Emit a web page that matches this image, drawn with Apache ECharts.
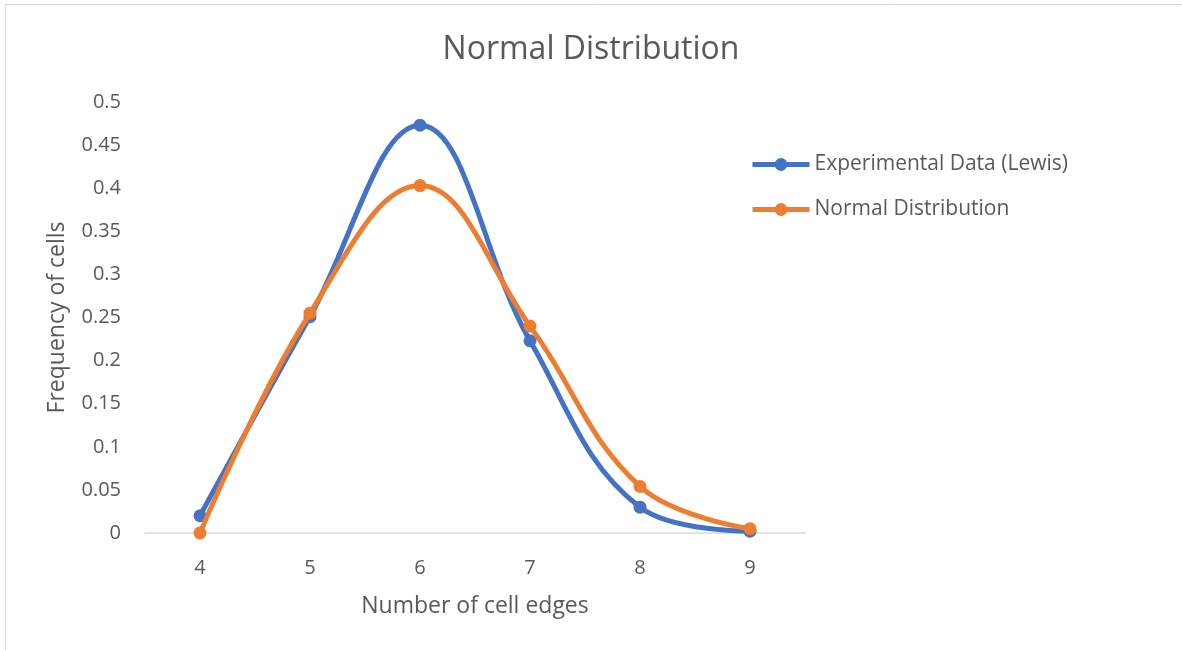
<!DOCTYPE html>
<html>
<head>
<meta charset="utf-8">
<script src="https://cdn.jsdelivr.net/npm/echarts@6/dist/echarts.min.js"></script>
<style>
  html, body { margin: 0; padding: 0; background: #fff; }
  #chart { width: 1182px; height: 650px; }
</style>
</head>
<body>
<div id="chart"></div>
<script>
// Number of cell edges
const categories = ['4', '5', '6', '7', '8', '9'];
// Frequency of cells per edge count
const experimental = [0.020, 0.251, 0.473, 0.223, 0.030, 0.002];
const normalDist = [0.000, 0.255, 0.403, 0.240, 0.054, 0.005];
const yTicks = [0, 0.05, 0.1, 0.15, 0.2, 0.25, 0.3, 0.35, 0.4, 0.45, 0.5];

const FONT = '"Open Sans", sans-serif';
const TEXT = '#595959';

const chart = echarts.init(document.getElementById('chart'));
chart.setOption({
  backgroundColor: '#fff',
  textStyle: { fontFamily: FONT },
  graphic: [{
    type: 'rect',
    shape: { x: 5.5, y: 4.5, width: 1180, height: 650 },
    style: { fill: 'none', stroke: '#d9d9d9', lineWidth: 1 },
    silent: true
  }],
  title: {
    text: 'Normal Distribution',
    left: 'center',
    top: 29,
    textStyle: { fontFamily: FONT, fontSize: 32, fontWeight: 'normal', color: TEXT }
  },
  legend: {
    orient: 'vertical',
    left: 745,
    top: 149,
    itemWidth: 57,
    itemHeight: 16,
    itemGap: 24,
    lineStyle: { width: 5 },
    textStyle: { fontFamily: FONT, fontSize: 21, color: TEXT },
    data: ['Experimental Data (Lewis)', 'Normal Distribution']
  },
  grid: { left: 145, right: 377, top: 102, bottom: 117 },
  xAxis: {
    type: 'category',
    data: categories,
    boundaryGap: true,
    name: 'Number of cell edges',
    nameLocation: 'middle',
    nameGap: 62,
    nameTextStyle: { fontFamily: FONT, fontSize: 23, color: TEXT },
    axisLine: { lineStyle: { color: '#d9d9d9', width: 1.5 } },
    axisTick: { show: false },
    axisLabel: { fontFamily: FONT, fontSize: 20, color: TEXT, margin: 25 }
  },
  yAxis: {
    type: 'value',
    min: yTicks[0],
    max: yTicks[yTicks.length - 1],
    interval: 0.05,
    name: 'Frequency of cells',
    nameLocation: 'middle',
    nameGap: 76,
    nameTextStyle: { fontFamily: FONT, fontSize: 23, color: TEXT },
    axisLine: { show: false },
    axisTick: { show: false },
    splitLine: { show: false },
    axisLabel: {
      fontFamily: FONT, fontSize: 20, color: TEXT, margin: 24,
      formatter: v => String(Math.round(v * 100) / 100)
    }
  },
  series: [
    {
      name: 'Experimental Data (Lewis)',
      type: 'line',
      data: experimental,
      smooth: 0.4,
      symbol: 'circle',
      symbolSize: 13,
      color: '#4472c4',
      lineStyle: { width: 5 },
      z: 2
    },
    {
      name: 'Normal Distribution',
      type: 'line',
      data: normalDist,
      smooth: 0.4,
      symbol: 'circle',
      symbolSize: 13,
      color: '#ed7d31',
      lineStyle: { width: 5 },
      z: 3
    }
  ]
});
</script>
</body>
</html>
